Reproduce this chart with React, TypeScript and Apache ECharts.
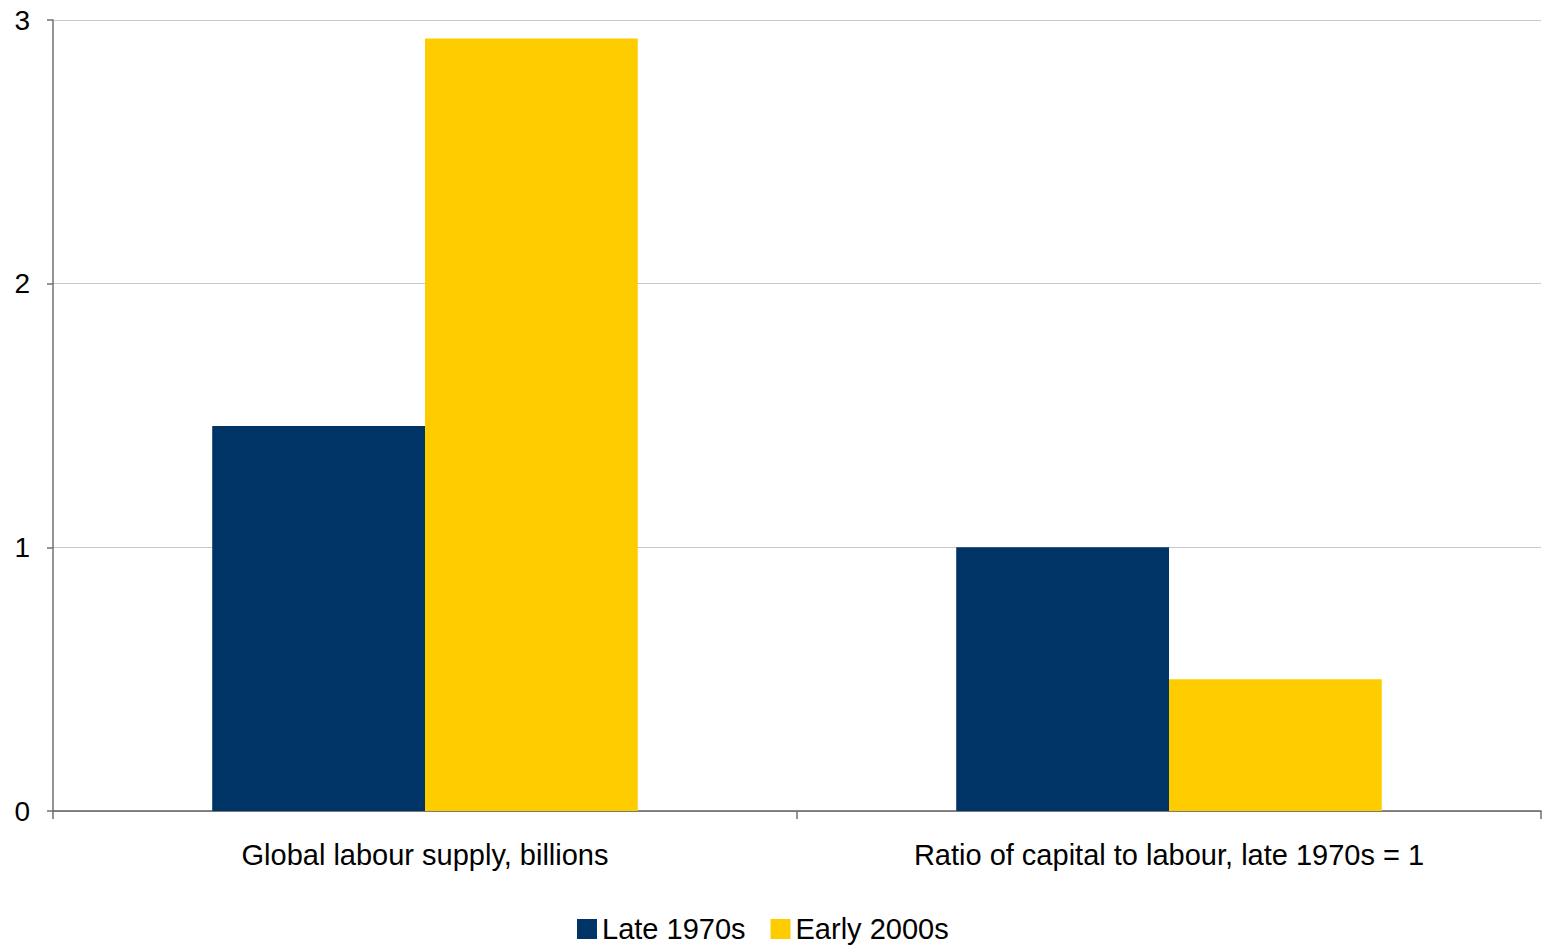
import React, { useEffect, useRef } from "react";
import * as echarts from "echarts";

const categories = ["Global labour supply, billions", "Ratio of capital to labour, late 1970s = 1"];
const late1970s = [1.46, 1.0];
const early2000s = [2.93, 0.5];
const seriesNames = ["Late 1970s", "Early 2000s"];
const yTicks = [0, 1, 2, 3];

export default function App() {
  const ref = useRef<HTMLDivElement>(null);
  useEffect(() => {
    document.body.style.margin = "0";
    const chart = echarts.init(ref.current!, null, { renderer: "svg" });
    const font = "Liberation Sans, Arial, sans-serif";
    chart.setOption({
      animation: false,
      backgroundColor: "#ffffff",
      grid: { left: 53, right: 2, top: 20, bottom: 137, containLabel: false },
      legend: {
        left: 572,
        top: 909,
        itemWidth: 20,
        itemHeight: 20,
        itemGap: 25,
        icon: "rect",
        textStyle: { fontFamily: font, fontSize: 29, color: "#000000", lineHeight: 30 },
        data: seriesNames,
      },
      xAxis: {
        type: "category",
        data: categories,
        axisLine: { lineStyle: { color: "#606060", width: 1.5 } },
        axisTick: { show: true, length: 8, alignWithLabel: false, lineStyle: { color: "#707070", width: 1.5 } },
        axisLabel: { fontFamily: font, fontSize: 29, color: "#000000", margin: 29 },
        splitLine: { show: false },
      },
      yAxis: {
        type: "value",
        min: yTicks[0],
        max: yTicks[yTicks.length - 1],
        interval: 1,
        axisLine: { show: true, lineStyle: { color: "#707070", width: 1.5 } },
        axisTick: { show: true, length: 6, lineStyle: { color: "#707070", width: 1.5 } },
        axisLabel: { fontFamily: font, fontSize: 28, color: "#000000", margin: 23 },
        splitLine: { show: true, lineStyle: { color: "#c8c8c8", width: 1 } },
      },
      series: [
        {
          name: seriesNames[0],
          type: "bar",
          data: late1970s,
          itemStyle: { color: "#003366" },
          barGap: "0%",
          barCategoryGap: "42.8%",
        },
        {
          name: seriesNames[1],
          type: "bar",
          data: early2000s,
          itemStyle: { color: "#FFCC00" },
          barGap: "0%",
          barCategoryGap: "42.8%",
        },
      ],
    });
    return () => chart.dispose();
  }, []);
  return <div ref={ref} style={{ position: "absolute", left: 0, top: 0, width: 1543, height: 948 }} />;
}
